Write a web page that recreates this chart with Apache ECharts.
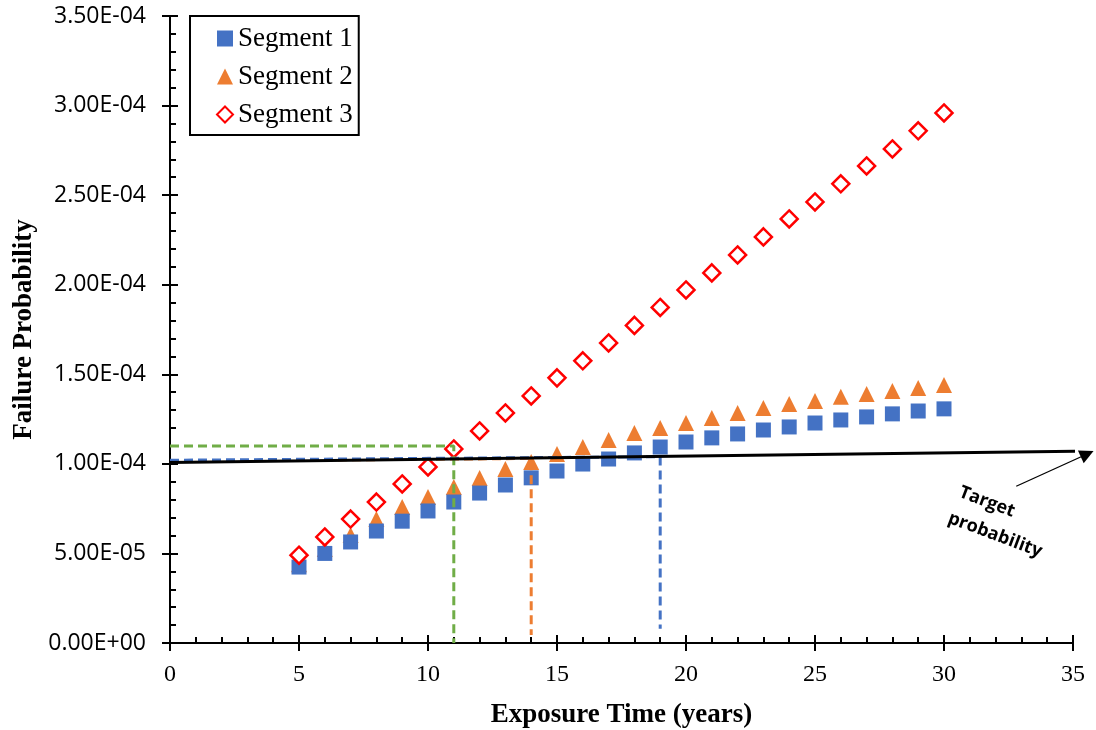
<!DOCTYPE html>
<html>
<head>
<meta charset="utf-8">
<script src="https://cdn.jsdelivr.net/npm/echarts@6/dist/echarts.min.js"></script>
<style>
  html, body { margin: 0; padding: 0; background: #fff; }
  #chart { width: 1096px; height: 730px; }
</style>
</head>
<body>
<div id="chart"></div>
<script>
// exposure time (years)
var years = [5, 6, 7, 8, 9, 10, 11, 12, 13, 14, 15, 16, 17, 18, 19, 20, 21, 22, 23, 24, 25, 26, 27, 28, 29, 30]

// failure probability per segment
var segment1 = [4.24e-5, 5.00e-5, 5.64e-5, 6.25e-5, 6.80e-5, 7.37e-5, 7.87e-5, 8.37e-5, 8.82e-5, 9.22e-5, 9.60e-5, 9.99e-5,
  1.027e-4, 1.061e-4, 1.094e-4, 1.122e-4, 1.145e-4, 1.167e-4, 1.189e-4, 1.206e-4, 1.228e-4, 1.245e-4, 1.262e-4, 1.279e-4, 1.295e-4, 1.307e-4]
var segment2 = [4.40e-5, 5.25e-5, 6.03e-5, 6.92e-5, 7.59e-5, 8.15e-5, 8.71e-5, 9.21e-5, 9.71e-5, 1.010e-4, 1.055e-4, 1.094e-4,
  1.133e-4, 1.172e-4, 1.200e-4, 1.228e-4, 1.256e-4, 1.284e-4, 1.312e-4, 1.334e-4, 1.351e-4, 1.374e-4, 1.390e-4, 1.407e-4, 1.424e-4, 1.440e-4]
var segment3 = [4.90e-5, 5.92e-5, 6.92e-5, 7.87e-5, 8.88e-5, 9.83e-5, 1.083e-4, 1.184e-4, 1.284e-4, 1.379e-4, 1.480e-4, 1.575e-4,
  1.675e-4, 1.773e-4, 1.873e-4, 1.971e-4, 2.066e-4, 2.166e-4, 2.267e-4, 2.367e-4, 2.462e-4, 2.563e-4, 2.663e-4, 2.758e-4, 2.859e-4, 2.959e-4]

// target probability line and the guide lines (x in years, y probability)
var targetLine = [[0, 1.007e-4], [35.9, 1.072e-4]]
var blueGuide = [[0, 1.02e-4], [19, 1.04e-4], [19, 0.08e-4]]
var orangeGuide = [[0, 1.015e-4], [14, 1.03e-4], [14, 0.045e-4]]
var greenGuide = [[0, 1.10e-4], [11, 1.10e-4], [11, 0]]
var arrowLine = [[32.8, 0.875e-4], [35.55, 1.055e-4]]

var seriesNames = ['Segment 1', 'Segment 2', 'Segment 3']

function pairs (xs, ys) {
  var out = []
  for (var i = 0; i < xs.length; i++) {
    out.push([xs[i], ys[i]])
  }
  return out
}

function sci (v) {
  var s = Number(v).toExponential(2).split('e')
  var exp = parseInt(s[1], 10)
  var sign = exp < 0 ? '-' : '+'
  var e = Math.abs(exp)
  return s[0] + 'E' + sign + (e < 10 ? '0' + e : e)
}

var chart = echarts.init(document.getElementById('chart'))

var guideStyle = function (color, data) {
  return {
    type: 'line',
    data: data,
    showSymbol: false,
    symbol: 'none',
    silent: true,
    z: 4,
    lineStyle: { color: color, width: 3, type: [9, 5] }
  }
}

var noteText = function (text, x, y) {
  return {
    type: 'text',
    x: x,
    y: y,
    rotation: -0.36,
    z: 10,
    style: {
      text: text,
      fontFamily: 'Open Sans',
      fontSize: 18,
      fontWeight: 'bold',
      fill: '#000',
      textAlign: 'center',
      textVerticalAlign: 'middle'
    }
  }
}

var serifBold = { fontFamily: 'Liberation Serif', fontSize: 27, fontWeight: 'bold', color: '#000' }

var option = {
  animation: false,
  backgroundColor: '#fff',
  grid: { left: 170, right: 23, top: 16, bottom: 87, containLabel: false, outerBoundsMode: 'none' },
  legend: {
    data: seriesNames,
    orient: 'vertical',
    left: 190,
    top: 16,
    padding: [9, 6, 7, 26],
    itemGap: 11,
    itemWidth: 16,
    itemHeight: 16,
    borderColor: '#000',
    borderWidth: 2,
    backgroundColor: '#fff',
    textStyle: { fontFamily: 'Liberation Serif', fontSize: 27, color: '#000' }
  },
  xAxis: [
    {
      type: 'value',
      min: 0,
      max: 35,
      interval: 5,
      name: 'Exposure Time (years)',
      nameLocation: 'middle',
      nameGap: 59,
      nameTextStyle: serifBold,
      axisLine: { lineStyle: { color: '#000', width: 2 } },
      axisTick: { show: true, length: 8, lineStyle: { color: '#000', width: 2 } },
      axisLabel: { fontFamily: 'Liberation Serif', fontSize: 24, color: '#000', margin: 20 },
      splitLine: { show: false }
    },
    {
      type: 'value',
      min: 0,
      max: 35,
      interval: 5,
      position: 'bottom',
      offset: 0,
      axisLine: { show: false },
      axisTick: { show: true, inside: true, length: 8, lineStyle: { color: '#000', width: 2 } },
      minorTick: { show: true, splitNumber: 5, length: 6, lineStyle: { color: '#000', width: 2 } },
      axisLabel: { show: false },
      splitLine: { show: false }
    }
  ],
  yAxis: [
    {
      type: 'value',
      min: 0,
      max: 3.5e-4,
      interval: 5e-5,
      name: 'Failure Probability',
      nameLocation: 'middle',
      nameGap: 126,
      nameTextStyle: serifBold,
      axisLine: { show: true, lineStyle: { color: '#000', width: 2 } },
      axisTick: { show: true, length: 8, lineStyle: { color: '#000', width: 2 } },
      axisLabel: {
        fontFamily: 'Open Sans',
        fontSize: 23,
        color: '#000',
        margin: 24,
        formatter: sci
      },
      splitLine: { show: false }
    },
    {
      type: 'value',
      min: 0,
      max: 3.5e-4,
      interval: 5e-5,
      position: 'left',
      offset: 0,
      axisLine: { show: false },
      axisTick: { show: true, inside: true, length: 8, lineStyle: { color: '#000', width: 2 } },
      minorTick: { show: true, splitNumber: 5, length: 6, lineStyle: { color: '#000', width: 2 } },
      axisLabel: { show: false },
      splitLine: { show: false }
    }
  ],
  series: [
    {
      name: 'Segment 1',
      type: 'scatter',
      symbol: 'rect',
      symbolSize: 15,
      z: 3,
      itemStyle: { color: '#4472C4', opacity: 1 },
      data: pairs(years, segment1)
    },
    {
      name: 'Segment 2',
      type: 'scatter',
      symbol: 'triangle',
      symbolSize: 16,
      z: 2,
      itemStyle: { color: '#ED7D31', opacity: 1 },
      data: pairs(years, segment2)
    },
    {
      name: 'Segment 3',
      type: 'scatter',
      symbol: 'diamond',
      symbolSize: 17,
      z: 3,
      itemStyle: { color: '#fff', borderColor: '#FF0000', borderWidth: 2.5, opacity: 1 },
      data: pairs(years, segment3)
    },
    {
      type: 'line',
      data: targetLine,
      symbol: 'none',
      silent: true,
      clip: false,
      z: 5,
      lineStyle: { color: '#000', width: 3 }
    },
    guideStyle('#ED7D31', orangeGuide),
    guideStyle('#4472C4', blueGuide),
    guideStyle('#70AD47', greenGuide),
    {
      // annotation arrow pointing at the target line
      type: 'lines',
      coordinateSystem: 'cartesian2d',
      silent: true,
      clip: false,
      z: 6,
      symbol: ['none', 'triangle'],
      symbolSize: [11, 14],
      lineStyle: { color: '#000', width: 1.3, opacity: 1 },
      data: [{ coords: arrowLine }]
    }
  ],
  graphic: [
    noteText('Target', 987, 502),
    noteText('probability', 995, 535)
  ]
}

chart.setOption(option)
</script>
</body>
</html>
